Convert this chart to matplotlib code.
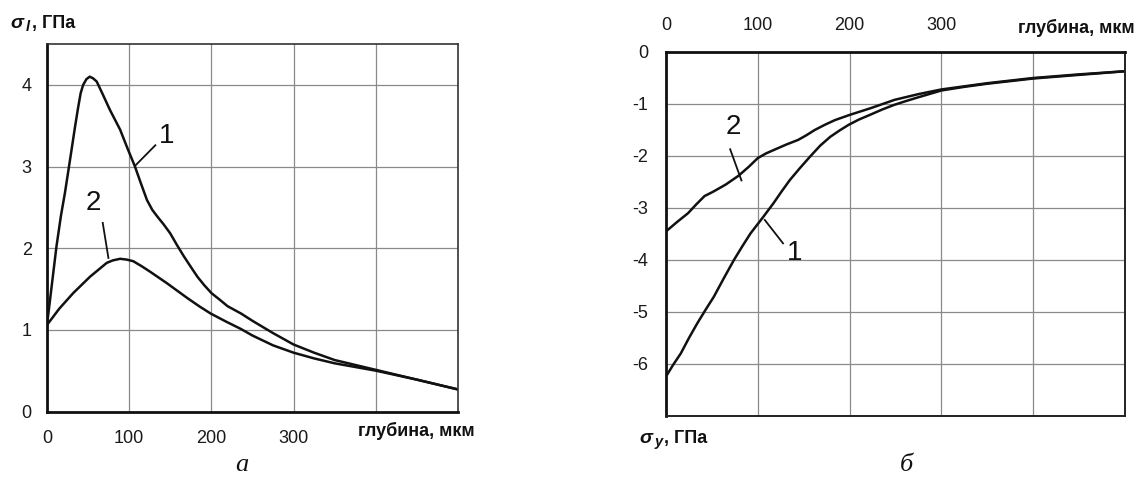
import matplotlib
matplotlib.use("Agg")
import matplotlib.pyplot as plt

plt.rcParams['font.family'] = ['Liberation Sans', 'DejaVu Sans']

# ---- data: panel a (sigma_l, GPa vs depth, um) ----
a1_x = [0, 11.5, 17, 21.7, 26, 29.8, 34, 38, 41, 44, 48, 52, 56, 60.5, 68, 76.7, 89, 98, 107, 114, 121.6, 128, 134, 142, 150, 158, 166.5, 175, 183, 191, 200, 210, 219.6, 236, 250, 275, 300, 325, 350, 400, 450, 500]
a1_y = [1.06, 2.02, 2.40, 2.67, 2.95, 3.20, 3.48, 3.73, 3.90, 4.0, 4.07, 4.10, 4.08, 4.04, 3.88, 3.69, 3.45, 3.22, 3.0, 2.80, 2.59, 2.47, 2.39, 2.29, 2.18, 2.04, 1.90, 1.77, 1.65, 1.55, 1.45, 1.37, 1.29, 1.20, 1.11, 0.96, 0.82, 0.72, 0.63, 0.51, 0.39, 0.27]
a2_x = [0, 15, 31.9, 52.3, 72.7, 80, 89, 97, 105, 115, 125.7, 146, 170.6, 185, 199, 218, 236, 250, 275, 300, 325, 350, 400, 450, 500]
a2_y = [1.06, 1.26, 1.45, 1.65, 1.82, 1.85, 1.87, 1.86, 1.84, 1.78, 1.71, 1.57, 1.39, 1.29, 1.20, 1.10, 1.01, 0.93, 0.81, 0.72, 0.65, 0.59, 0.50, 0.39, 0.27]

# ---- data: panel b (sigma_y, GPa vs depth, um) ----
b1_x = [0, 8, 16, 25, 34, 43, 52, 63, 74, 83, 92, 106, 117, 126, 135, 146, 157, 168, 179, 189, 199, 210, 222, 235, 248, 262, 275, 300, 325, 350, 400, 450, 500]
b1_y = [-6.24, -6.01, -5.80, -5.50, -5.22, -4.96, -4.71, -4.35, -4.0, -3.74, -3.49, -3.17, -2.91, -2.68, -2.46, -2.23, -2.01, -1.80, -1.63, -1.51, -1.40, -1.30, -1.21, -1.11, -1.02, -0.94, -0.87, -0.74, -0.67, -0.61, -0.51, -0.44, -0.37]
b2_x = [0, 12, 24, 33, 42, 51, 65, 79, 90, 100, 109, 118, 131, 144, 153, 162, 173, 184, 200, 223, 249, 275, 300, 350, 400, 450, 500]
b2_y = [-3.45, -3.27, -3.10, -2.93, -2.77, -2.69, -2.55, -2.38, -2.21, -2.04, -1.95, -1.88, -1.78, -1.69, -1.60, -1.50, -1.40, -1.31, -1.21, -1.08, -0.92, -0.81, -0.72, -0.60, -0.50, -0.43, -0.37]

a_xticks = [0, 100, 200, 300, 400]
a_xlabels = ['0', '100', '200', '300', '']
a_yticks = [0, 1, 2, 3, 4]
b_xticks = [0, 100, 200, 300, 400]
b_xlabels = ['0', '100', '200', '300', '']
b_yticks = [0, -1, -2, -3, -4, -5, -6]
xlabel_text = 'глубина, мкм'
unit_text = ', ГПа'

W, H = 1139, 479
fig = plt.figure(figsize=(W / 100, H / 100), dpi=100)

def fx(px):
    return px / W

def fy(py):
    return 1 - py / H

ax1 = fig.add_axes([fx(47), fy(411.5), (458 - 47) / W, (411.5 - 44) / H])
ax2 = fig.add_axes([fx(666), fy(416), (1125 - 666) / W, (416 - 52) / H])

grid_kw = dict(color='#8a8a8a', linewidth=0.9)
line_kw = dict(color='#111111', linewidth=1.8, solid_capstyle='round', solid_joinstyle='round')
tick_font = dict(fontsize=13, color='#1a1a1a')

# ---- panel a ----
ax1.plot(a1_x, a1_y, **line_kw)
ax1.plot(a2_x, a2_y, **line_kw)
ax1.set_xlim(0, 500)
ax1.set_ylim(0, 4.5)
ax1.set_xticks(a_xticks)
ax1.set_xticklabels(a_xlabels, **tick_font)
ax1.set_yticks(a_yticks)
ax1.set_yticklabels([str(v) for v in a_yticks], **tick_font)
ax1.grid(True, **grid_kw)
ax1.tick_params(length=0)
ax1.tick_params(axis='x', pad=13)
ax1.tick_params(axis='y', pad=11)
for s in ['left', 'bottom']:
    ax1.spines[s].set_linewidth(2.0)
    ax1.spines[s].set_color('#111111')
for s in ['top', 'right']:
    ax1.spines[s].set_linewidth(1.2)
    ax1.spines[s].set_color('#333333')

ax1.plot([107.3, 131.8], [3.01, 3.26], color='#111111', linewidth=1.3)
ax1.text(146, 3.37, '1', fontsize=20, ha='center', va='center', color='#111111')
ax1.plot([67.8, 74.7], [2.31, 1.88], color='#111111', linewidth=1.3)
ax1.text(56.3, 2.55, '2', fontsize=20, ha='center', va='center', color='#111111')

fig.text(fx(416), fy(431), xlabel_text, fontsize=13, fontweight='bold',
         ha='center', va='center', color='#111111')

# ---- panel b ----
ax2.plot(b1_x, b1_y, **line_kw)
ax2.plot(b2_x, b2_y, **line_kw)
ax2.set_xlim(0, 500)
ax2.set_ylim(-7, 0)
ax2.xaxis.tick_top()
ax2.set_xticks(b_xticks)
ax2.set_xticklabels(b_xlabels, **tick_font)
ax2.set_yticks(b_yticks)
ax2.set_yticklabels([str(v) for v in b_yticks], **tick_font)
ax2.grid(True, **grid_kw)
ax2.tick_params(length=0)
ax2.tick_params(axis='x', pad=13)
ax2.tick_params(axis='y', pad=13)
for s in ['left', 'top']:
    ax2.spines[s].set_linewidth(2.0)
    ax2.spines[s].set_color('#111111')
for s in ['bottom', 'right']:
    ax2.spines[s].set_linewidth(1.4)
    ax2.spines[s].set_color('#222222')

ax2.plot([69.9, 82.2], [-1.87, -2.47], color='#111111', linewidth=1.3)
ax2.text(73, -1.44, '2', fontsize=20, ha='center', va='center', color='#111111')
ax2.plot([107.6, 127.5], [-3.23, -3.68], color='#111111', linewidth=1.3)
ax2.text(140, -3.87, '1', fontsize=20, ha='center', va='center', color='#111111')

fig.text(fx(1076), fy(28), xlabel_text, fontsize=13, fontweight='bold',
         ha='center', va='center', color='#111111')

# ---- axis-name labels (sigma with subscript) ----
def sigma_label(x0, base_y, sub, gap):
    fig.text(fx(x0), fy(base_y), 'σ', fontsize=14, fontweight='bold', style='italic',
             ha='left', va='baseline', color='#111111')
    fig.text(fx(x0 + 15.5), fy(base_y + 3), sub, fontsize=10.5, fontweight='bold', style='italic',
             ha='left', va='baseline', color='#111111')
    fig.text(fx(x0 + gap), fy(base_y), unit_text, fontsize=13, fontweight='bold',
             ha='left', va='baseline', color='#111111')

sigma_label(10, 28, 'l', 22)
sigma_label(639, 443, 'y', 25)

# ---- panel captions ----
fig.text(fx(242), fy(465), 'а', fontsize=19, style='italic', family=['Liberation Serif', 'DejaVu Serif'],
         ha='center', va='center', color='#111111')
fig.text(fx(906), fy(465), 'б', fontsize=19, style='italic', family=['Liberation Serif', 'DejaVu Serif'],
         ha='center', va='center', color='#111111')

fig.savefig('out.png', dpi=100)
